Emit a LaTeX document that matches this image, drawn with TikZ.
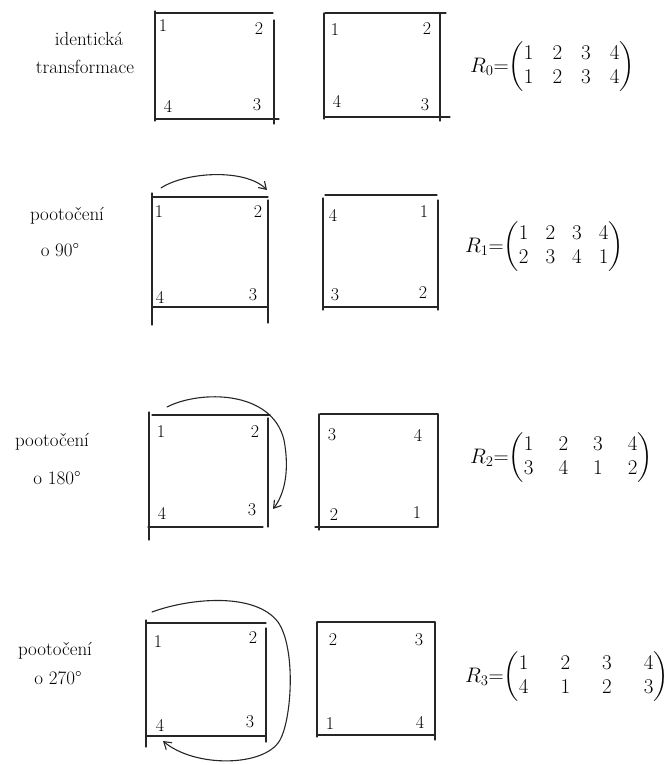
\RequirePackage{fix-cm}
\documentclass[tikz,border=0pt]{standalone}
\usepackage{amsmath}
\usetikzlibrary{arrows.meta}
\begin{document}
\begin{tikzpicture}[x=1pt,y=-1pt,
  pen/.style={line width=1.3pt, draw=black!85, line cap=round},
  rot/.style={line width=1.1pt, draw=black!85, line cap=round, -{Straight Barb[length=7pt,width=9pt,line width=1.1pt]}},
  num/.style={font=\fontsize{18}{20}\selectfont, inner sep=0pt},
  lbl/.style={font=\fontsize{19}{22}\selectfont, inner sep=0pt},
  mat/.style={font=\fontsize{21}{24}\selectfont, inner sep=0pt, anchor=west}]
\useasboundingbox (0,0) rectangle (670,765);

% ---------- row 1: identity ----------
\node[lbl] (l0a) at (89,39) {identická};
\node[lbl] (l0b) at (85,67) {transformace};
\draw[pen] (155,13) -- (273,13);
\draw[pen] (155,11) -- (155,121);
\draw[pen] (274,20) -- (274,124);
\draw[pen] (156,119) -- (279,119);
\node[num] (a0n1) at (163,26) {1};
\node[num] (a0n2) at (259,29) {2};
\node[num] (a0n4) at (168,106) {4};
\node[num] (a0n3) at (257,105) {3};
\draw[pen] (325,13) -- (446,13);
\draw[pen] (324,13) -- (324,119);
\draw[pen] (440,13) -- (440,121);
\draw[pen] (325,117) -- (450,117);
\node[num] (b0n1) at (335,30) {1};
\node[num] (b0n2) at (427,29) {2};
\node[num] (b0n4) at (337,101) {4};
\node[num] (b0n3) at (425,105) {3};
\node[mat] (r0) at (470,67) {\setlength{\arraycolsep}{9.5pt}$R_0{=}\!\begin{pmatrix}1&2&3&4\\1&2&3&4\end{pmatrix}$};

% ---------- row 2: 90 degrees ----------
\node[lbl] (l1a) at (67,216) {pootočení};
\node[lbl] (l1b) at (60,250) {o 90\textdegree};
\draw[pen] (152,197) -- (268,197);
\draw[pen] (152,193) -- (152,325);
\draw[pen] (268,200) -- (268,323);
\draw[pen] (152,307) -- (268,307);
\node[num] (a1n1) at (159,212) {1};
\node[num] (a1n2) at (258,212) {2};
\node[num] (a1n4) at (160,297) {4};
\node[num] (a1n3) at (253,295) {3};
\coordinate (a1s) at (161,188);
\coordinate (a1e) at (267,190);
\draw[rot] (a1s) .. controls (185,172) and (245,168) .. (a1e);
\draw[pen] (325,195) -- (437,195);
\draw[pen] (323,198) -- (323,310);
\draw[pen] (438,200) -- (438,310);
\draw[pen] (323,307) -- (438,307);
\node[num] (b1n4) at (333,215) {4};
\node[num] (b1n1) at (424,212) {1};
\node[num] (b1n3) at (335,295) {3};
\node[num] (b1n2) at (423,293) {2};
\node[mat] (r1) at (465,247) {\setlength{\arraycolsep}{8.5pt}$R_1{=}\!\begin{pmatrix}1&2&3&4\\2&3&4&1\end{pmatrix}$};

% ---------- row 3: 180 degrees ----------
\node[lbl] (l2a) at (52,442) {pootočení};
\node[lbl] (l2b) at (57,478) {o 180\textdegree};
\draw[pen] (152,415) -- (270,415);
\draw[pen] (149,412) -- (149,540);
\draw[pen] (268,418) -- (268,527);
\draw[pen] (148,527) -- (263,527);
\node[num] (a2n1) at (161,432) {1};
\node[num] (a2n2) at (255,432) {2};
\node[num] (a2n4) at (162,513) {4};
\node[num] (a2n3) at (252,510) {3};
\coordinate (a2s) at (167,407);
\coordinate (a2e) at (273,509);
\draw[rot] (a2s) .. controls (200,390) and (272,390) .. (284,440)
  .. controls (290,472) and (284,495) .. (a2e);
\draw[pen] (320,414) -- (438,414);
\draw[pen] (319,414) -- (319,530);
\draw[pen] (438,414) -- (438,527);
\draw[pen] (315,527) -- (438,527);
\node[num] (b2n3) at (332,435) {3};
\node[num] (b2n4) at (418,435) {4};
\node[num] (b2n2) at (334,515) {2};
\node[num] (b2n1) at (417,513) {1};
\node[mat] (r2) at (470,458) {\setlength{\arraycolsep}{12.5pt}$R_2{=}\!\begin{pmatrix}1&2&3&4\\3&4&1&2\end{pmatrix}$};

% ---------- row 4: 270 degrees ----------
\node[lbl] (l3a) at (55,651) {pootočení};
\node[lbl] (l3b) at (58,678) {o 270\textdegree};
\draw[pen] (147,623) -- (266,623);
\draw[pen] (146,620) -- (146,747);
\draw[pen] (266,628) -- (266,742);
\draw[pen] (146,736) -- (266,736);
\node[num] (a3n1) at (158,642) {1};
\node[num] (a3n2) at (253,638) {2};
\node[num] (a3n4) at (160,725) {4};
\node[num] (a3n3) at (250,722) {3};
\coordinate (a3s) at (152,612);
\coordinate (a3e) at (163,741);
\draw[rot] (a3s) .. controls (190,598) and (255,592) .. (278,622)
  .. controls (296,648) and (292,718) .. (280,740)
  .. controls (265,767) and (195,768) .. (a3e);
\draw[pen] (317,622) -- (435,622);
\draw[pen] (317,622) -- (317,737);
\draw[pen] (435,622) -- (435,740);
\draw[pen] (317,735) -- (435,735);
\node[num] (b3n2) at (333,640) {2};
\node[num] (b3n3) at (419,640) {3};
\node[num] (b3n1) at (330,724) {1};
\node[num] (b3n4) at (420,722) {4};
\node[mat] (r3) at (465,677) {\setlength{\arraycolsep}{16pt}$R_3{=}\!\begin{pmatrix}1&2&3&4\\4&1&2&3\end{pmatrix}$};
\end{tikzpicture}
\end{document}
